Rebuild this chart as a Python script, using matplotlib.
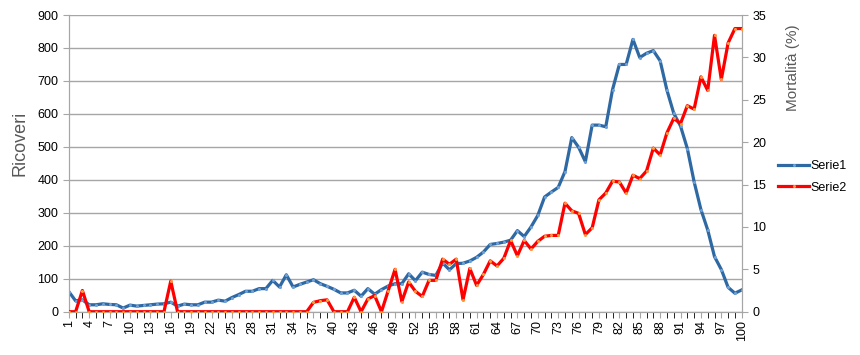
import matplotlib
matplotlib.use('Agg')
import matplotlib.pyplot as plt

plt.rcParams['font.family'] = ['Liberation Sans', 'DejaVu Sans']

giorni = list(range(1, 101))

# Serie1 - ricoveri (asse sinistro)
ricoveri = [61, 33, 36, 21, 21, 24, 22, 21, 11, 20,
            17, 19, 21, 23, 24, 29, 17, 23, 21, 21,
            29, 29, 35, 32, 43, 52, 62, 62, 70, 70,
            95, 75, 112, 75, 83, 90, 97, 85, 77, 68,
            57, 57, 65, 47, 70, 53, 67, 78, 85, 85,
            115, 94, 120, 113, 110, 148, 127, 146, 147, 154,
            165, 181, 204, 207, 211, 217, 246, 228, 257, 292,
            348, 363, 377, 425, 528, 499, 455, 566, 566, 561,
            674, 750, 750, 826, 771, 784, 792, 761, 672, 602,
            563, 495, 394, 310, 248, 167, 128, 74, 56, 66]

# Serie2 - mortalita % (asse destro)
mortalita = [0, 0, 2.5, 0, 0, 0, 0, 0, 0, 0,
             0, 0, 0, 0, 0, 3.6, 0, 0, 0, 0,
             0, 0, 0, 0, 0, 0, 0, 0, 0, 0,
             0, 0, 0, 0, 0, 0, 1.1, 1.3, 1.4, 0,
             0, 0, 1.7, 0, 1.5, 1.9, 0, 2.5, 5.0, 1.2,
             3.5, 2.4, 1.8, 3.7, 3.7, 6.2, 5.6, 6.2, 1.4, 5.1,
             3.1, 4.4, 6.0, 5.4, 6.3, 8.4, 6.6, 8.4, 7.4, 8.3,
             8.9, 9.0, 9.0, 12.8, 11.9, 11.6, 9.1, 9.9, 13.2, 14.0,
             15.4, 15.3, 14.0, 16.1, 15.7, 16.6, 19.3, 18.5, 21.1, 22.8,
             22.2, 24.3, 23.9, 27.7, 26.1, 32.6, 27.4, 31.7, 33.4, 33.4]

grigio = '#a6a6a6'
testo_grigio = '#595959'

fig = plt.figure(figsize=(8.6, 3.55), dpi=100)
ax = fig.add_axes([68.8 / 860, 1 - 311.7 / 355, (741.7 - 68.8) / 860, (311.7 - 15) / 355])
bx = ax.twinx()

l1, = ax.plot(giorni, ricoveri, color='#2f69a3', lw=2.3, solid_joinstyle='round',
              marker='o', ms=1.2, mfc='#6fa0d8', mec='#6fa0d8', zorder=3)
l2, = bx.plot(giorni, mortalita, color='#ff0000', lw=2.3, solid_joinstyle='round',
              marker='o', ms=1.2, mfc='#ff9a3c', mec='#ff9a3c', zorder=3)

ax.set_xlim(1, 100)
ax.set_ylim(0, 900)
bx.set_ylim(0, 35)
ax.set_yticks(range(0, 901, 100))
bx.set_yticks(range(0, 36, 5))
ax.set_xticks(giorni, minor=True)
ax.set_xticks(giorni[::3])
ax.set_xticklabels([str(g) for g in giorni[::3]], rotation=90)

ax.yaxis.grid(True, color=grigio, lw=1)
ax.set_axisbelow(True)

for a in (ax, bx):
    for s in a.spines.values():
        s.set_color(grigio)
    a.spines['top'].set_visible(False)
    a.tick_params(colors=grigio, labelcolor='black', labelsize=9)
ax.tick_params(axis='x', which='both', length=4, pad=2)
ax.tick_params(axis='y', length=4)
bx.tick_params(axis='y', length=4)

fig.text(20 / 860, 1 - 143 / 355, 'Ricoveri', rotation=90, ha='center', va='center',
         fontsize=13, color=testo_grigio)
fig.text(793 / 860, 1 - 68 / 355, 'Mortalità (%)', rotation=90, ha='center', va='center',
         fontsize=11, color=testo_grigio)

fig.legend([l1, l2], ['Serie1', 'Serie2'], loc='center left',
           bbox_to_anchor=(773 / 860, 1 - 177 / 355), frameon=False,
           fontsize=9, handlelength=2.5, handletextpad=0.1, labelspacing=0.75,
           borderaxespad=0)

fig.savefig('out.png', dpi=100)
